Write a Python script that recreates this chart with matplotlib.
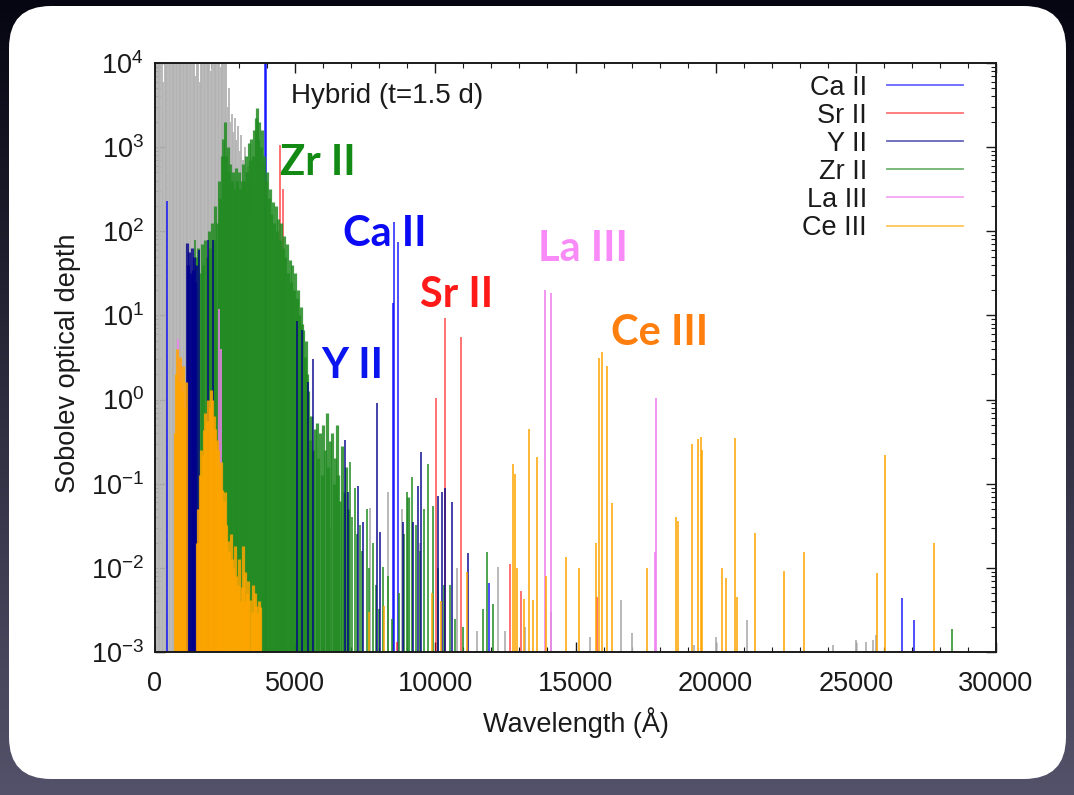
import numpy as np
import matplotlib
matplotlib.use("Agg")
import matplotlib.pyplot as plt
from matplotlib.patches import FancyBboxPatch
from matplotlib.ticker import MultipleLocator, LogLocator, NullFormatter

plt.rcParams['font.family'] = ['Liberation Sans', 'DejaVu Sans']
plt.rcParams['mathtext.fontset'] = 'custom'
plt.rcParams['mathtext.rm'] = 'Liberation Sans'
plt.rcParams['mathtext.it'] = 'Liberation Sans:italic'
plt.rcParams['mathtext.bf'] = 'Liberation Sans:bold'

# ---------------- line lists: wavelength (Angstrom) and Sobolev depth ----------------
other_wl = [40, 90, 140, 190, 240, 290, 340, 390, 440, 490, 540, 590, 640, 690, 740,
            790, 840, 890, 940, 990, 1040, 1090, 1140, 1190, 1240, 1290, 1340, 1390,
            1440, 1490, 1540, 1590, 1640, 1690, 1740, 1790, 1840, 1890, 1940, 1990,
            2040, 2090, 2140, 2190, 2240, 2290, 2340, 2390, 2440, 2490, 2540, 2590,
            2640, 2690, 2740, 2790, 2840, 2900, 2960, 3020, 3080, 3140, 3200, 3260,
            3330, 3400, 3470, 3550,
            6240, 7670, 8310, 8800, 9450, 10760, 11500, 12240, 12490, 13210, 14110,
            15500, 16620, 17000, 19220, 20020, 21110, 24200, 25000, 25380, 25600, 25720]
other_tau = [3e4, 5e4, 2e4, 8e4, 3e4, 6000, 4e4, 2e4, 5e4, 3e4, 9e4, 2e4, 4e4, 3e4, 1.5e4,
             6e4, 3e4, 2e4, 7e4, 4e4, 2e4, 3e4, 5e4, 2e4, 3e4, 4e4, 2e4, 1.5e4,
             7000, 3e4, 2e4, 6000, 2e4, 4e4, 2e4, 3e4, 1.5e4, 2e4, 5e4, 8000,
             3e4, 2e4, 4e4, 1.5e4, 2e4, 3e4, 9000, 2e4, 4e4, 2e4, 1.2e4, 3000,
             5000, 2000, 2500, 1500, 2200, 1200, 1800, 900, 1400, 700, 1000, 500,
             600, 300, 400, 150,
             0.03, 0.052, 0.08, 0.05, 0.02, 0.01, 0.0018, 0.0102, 0.0018, 0.002, 0.003,
             0.0015, 0.0042, 0.0017, 0.0012, 0.0015, 0.0024, 0.0012, 0.0014, 0.0013, 0.0014, 0.0016]

ca2_wl = [430, 3934, 3968, 8498, 8542, 8662, 11920, 26630, 27080]
ca2_tau = [230, 3e4, 2e4, 14, 130, 75, 0.0066, 0.0044, 0.0024]

zr2_wl = [1430, 1490, 1550, 1610, 1670, 1730, 1790, 1850, 1910, 1970, 2030, 2090, 2150,
          2210, 2270, 2330, 2390, 2440, 2490, 2540, 2590, 2640, 2690, 2740, 2790, 2840,
          2890, 2940, 2990, 3040, 3090, 3140, 3190, 3240, 3290, 3340, 3390, 3440, 3490,
          3540, 3590, 3640, 3680, 3720, 3770, 3810, 3860, 3900, 3950, 4000, 4050, 4100,
          4150, 4200, 4250, 4300, 4350, 4400, 4450, 4500, 4550, 4600, 4650, 4700, 4750,
          4800, 4850, 4900, 4950, 5000, 5050, 5100, 5150, 5200, 5250, 5290, 5340, 5380,
          5420, 5470, 5530, 5580, 5640, 5700, 5770, 5830, 5890, 5950, 6000, 6060, 6120,
          6180, 6240, 6300, 6370, 6420, 6480, 6540, 6600, 6670, 6740, 6800, 6880, 6960,
          7040, 7130, 7200, 7300, 7400, 7550, 7650, 7760, 7870, 8000, 8140, 8300, 8450,
          8700, 8900, 8980, 9020, 9160, 9300, 9450, 9600, 9740, 9930, 10100, 10300,
          10520, 10700, 11000, 11700, 11830, 12060, 28430]
zr2_tau = [79, 50, 63, 32, 71, 40, 79, 50, 100, 63, 126, 79, 200,
           126, 400, 250, 790, 1260, 2000, 790, 1000, 500, 630, 400, 500, 320,
           560, 400, 500, 320, 400, 630, 400, 790, 500, 1120, 710, 1260, 790,
           1580, 2240, 2900, 1260, 2000, 1000, 1580, 630, 790, 400, 500, 250, 320,
           160, 220, 126, 200, 100, 140, 79, 126, 63, 89, 50, 71, 32,
           45, 25, 40, 20, 32, 16, 20, 10, 12.6, 7.9, 6.8, 3.2, 5.0,
           2.0, 1.26, 0.33, 0.63, 0.25, 0.45, 0.52, 0.2, 0.4, 0.126, 0.5, 0.25, 0.7,
           0.16, 0.32, 0.4, 0.1, 0.2, 0.5, 0.126, 0.063, 0.28, 0.08, 0.16, 0.05, 0.18,
           0.04, 0.09, 0.025, 0.032, 0.016, 0.05, 0.01, 0.02, 0.0063, 0.0032, 0.0102, 0.008, 0.0025,
           0.005, 0.025, 0.08, 0.07, 0.12, 0.032, 0.016, 0.05, 0.17, 0.054, 0.01, 0.0063,
           0.0063, 0.0025, 0.002, 0.0032, 0.0155, 0.0037, 0.0019]

sr2_wl = [4450, 4570, 8630, 10040, 10330, 10915, 12660, 13060, 15760]
sr2_tau = [1050, 320, 0.0013, 1.05, 9.3, 5.5, 0.011, 0.0053, 0.0045]

y2_wl = [1150, 1190, 1230, 1270, 1310, 1350, 1390, 1430, 1470, 1570, 1890, 2070,
         5060, 5240, 5460, 5640, 6780, 6880, 7240, 7420, 7920, 8030, 8850, 9200,
         9390, 9490, 10100, 10230, 10340, 10590, 11170]
y2_tau = [72, 40, 56, 32, 63, 35, 50, 25, 40, 60, 79, 79,
          8.5, 6.8, 1.6, 3.0, 0.33, 0.08, 0.095, 0.035, 0.9, 0.027, 0.035, 0.035,
          0.095, 0.24, 0.072, 0.08, 0.09, 0.06, 0.015]

la3_wl = [830, 900, 960, 1030, 2290, 2350, 13910, 14115, 17830, 17870]
la3_tau = [5.3, 3.0, 1.5, 1.1, 12, 4.0, 20, 18.6, 0.0155, 1.05]

ce3_wl = [700, 750, 800, 850, 900, 950, 1000, 1050, 1100,
          1500, 1550, 1600, 1650, 1700, 1750, 1800, 1850, 1900, 1950, 2000, 2050,
          2100, 2150, 2200, 2250, 2300, 2350, 2400, 2450, 2500, 2550, 2600, 2650,
          2700, 2750, 2800, 2850, 2900, 2950, 3000, 3050, 3100, 3150, 3200, 3250,
          3280, 3330, 3390, 3450, 3500, 3550, 3600, 3640, 3700, 3750,
          7620, 8170, 9870, 10200, 11120,
          12770, 12840, 12910, 13160, 13340, 13480, 13630, 13950, 14660, 15120, 15730,
          15840, 15950, 16120, 16300, 17550, 18580, 18660, 19150, 19370, 19480, 19520,
          20230, 20370, 20690, 20750, 21400, 22440, 23150, 25760, 26040, 27790]
ce3_tau = [0.4, 2.0, 4.0, 1.6, 3.2, 1.26, 2.5, 0.8, 1.6,
           0.02, 0.05, 0.126, 0.25, 0.22, 0.44, 0.7, 0.56, 1.0, 0.8, 1.3, 1.0,
           0.63, 0.45, 0.33, 0.25, 0.16, 0.18, 0.085, 0.063, 0.08, 0.032, 0.021, 0.016,
           0.025, 0.0126, 0.01, 0.018, 0.008, 0.0063, 0.0126, 0.004, 0.006, 0.018, 0.009, 0.004,
           0.005, 0.007, 0.0042, 0.003, 0.0063, 0.005, 0.0035, 0.0029, 0.004, 0.0034,
           0.003, 0.0035, 0.005, 0.004, 0.009,
           0.17, 0.13, 0.010, 0.0043, 0.45, 0.0042, 0.21, 0.008, 0.0134, 0.010, 0.02,
           3.1, 3.7, 2.5, 0.059, 0.01, 0.04, 0.036, 0.30, 0.34, 0.36, 0.25,
           0.01, 0.0075, 0.35, 0.0045, 0.026, 0.0093, 0.0155, 0.0087, 0.22, 0.02]

legend_labels = ["Ca II", "Sr II", "Y II", "Zr II", "La III", "Ce III"]
x_ticks = [0, 5000, 10000, 15000, 20000, 25000, 30000]
x_range = (0, 30000)
y_range = (1e-3, 1e4)

# ---------------- figure, backdrop and rounded panel ----------------
W, H = 1074, 795
fig = plt.figure(figsize=(W / 100, H / 100), dpi=100)

bg = fig.add_axes([0, 0, 1, 1], zorder=-10)
t = np.linspace(0, 1, 256)[:, None, None]
top_c = np.array([6, 6, 18]) / 255.0
bot_c = np.array([84, 82, 106]) / 255.0
grad = top_c + (bot_c - top_c) * t
bg.imshow(grad, extent=[0, W, 0, H], aspect='auto', origin='upper', interpolation='bicubic')
bg.add_patch(FancyBboxPatch((9, 16), 1057, 773, boxstyle="round,pad=0,rounding_size=42",
                            fc='white', ec='none'))
bg.set_xlim(0, W)
bg.set_ylim(0, H)
bg.axis('off')

# ---------------- main axes ----------------
ax = fig.add_axes([155 / W, (H - 652) / H, 841 / W, 589 / H])
ax.set_facecolor('white')

# (wavelengths, depths, colour, alpha, width used inside a crowded stretch)
series = [
    (other_wl, other_tau, '#b3b3b3', 1.0, 1.3),
    (ca2_wl, ca2_tau, '#0000ff', 0.75, 2.3),
    (sr2_wl, sr2_tau, '#ff0000', 0.6, 2.3),
    (zr2_wl, zr2_tau, '#228b22', 0.85, 2.3),
    (y2_wl, y2_tau, '#00008b', 0.8, 2.3),
    (la3_wl, la3_tau, '#ee82ee', 0.9, 2.3),
    (ce3_wl, ce3_tau, '#ffa500', 0.85, 2.3),
]


def line_widths(wl, dense_lw, window=150, crowd=4):
    """Lines sitting in a crowded stretch are drawn wider so a forest reads as a band."""
    w = np.asarray(wl, dtype=float)
    counts = np.array([(np.abs(w - v) <= window).sum() for v in w])
    return np.where(counts >= crowd, dense_lw, 1.3)


for wl, tau, col, a, dlw in series:
    ax.vlines(wl, y_range[0], tau, colors=col, alpha=a, linewidth=line_widths(wl, dlw),
              capstyle='butt')

ax.set_yscale('log')
ax.set_xlim(*x_range)
ax.set_ylim(*y_range)
ax.set_xticks(x_ticks)
ax.xaxis.set_minor_locator(MultipleLocator(1000))
ax.yaxis.set_major_locator(LogLocator(base=10, numticks=20))
ax.yaxis.set_minor_locator(LogLocator(base=10, subs=np.arange(2, 10), numticks=20))
ax.yaxis.set_minor_formatter(NullFormatter())

ax.tick_params(which='both', direction='in', top=True, right=True, colors='#1a1a1a',
               labelsize=19.5)
ax.tick_params(which='major', length=7, width=1.0)
ax.tick_params(which='minor', length=3.5, width=0.8)
ax.tick_params(axis='x', which='major', pad=14)
ax.tick_params(axis='y', which='major', pad=8)
for s in ax.spines.values():
    s.set_linewidth(1.4)
    s.set_color('#1a1a1a')

ax.set_xlabel('Wavelength (Å)', fontsize=19.5, color='#1a1a1a')
ax.set_ylabel('Sobolev optical depth', fontsize=19.5, color='#1a1a1a')
ax.xaxis.set_label_coords(0.5, -0.094)
ax.yaxis.set_label_coords(-0.088, 0.49)

ax.text(0.162, 0.944, 'Hybrid (t=1.5 d)', transform=ax.transAxes, fontsize=20,
        color='#1a1a1a', ha='left', va='center')

# legend drawn gnuplot style: right-aligned labels, sample line on the right
legend_colors = ['#0000ff', '#ff0000', '#00008b', '#228b22', '#ee82ee', '#ffa500']
legend_alphas = [0.6, 0.55, 0.6, 0.65, 0.7, 0.65]
for i, lab in enumerate(legend_labels):
    yrow = 0.9626 - i * 0.0477
    ax.text(0.8466, yrow - 0.0166, lab, transform=ax.transAxes, fontsize=19.5,
            color='#1a1a1a', ha='right', va='baseline')
    ax.plot([0.8704, 0.9608], [yrow, yrow], transform=ax.transAxes,
            color=legend_colors[i], alpha=legend_alphas[i], linewidth=1.3)

# ion labels
ion_labels = [
    ('Zr II', 0.194, 0.8098, '#138a13'),
    ('Ca II', 0.2735, 0.6893, '#0a0af5'),
    ('Sr II', 0.358, 0.5864, '#ff1a1a'),
    ('La III', 0.5090, 0.6638, '#f98bf9'),
    ('Ce III', 0.6005, 0.5219, '#ff7f0e'),
    ('Y II', 0.235, 0.4659, '#0a14ee'),
]
for txt, x, y, col in ion_labels:
    ax.text(x, y, txt, transform=ax.transAxes, fontsize=30, fontweight='bold',
            family=['Lato', 'DejaVu Sans'], color=col, ha='center', va='baseline')

fig.savefig('out.png', dpi=100)
